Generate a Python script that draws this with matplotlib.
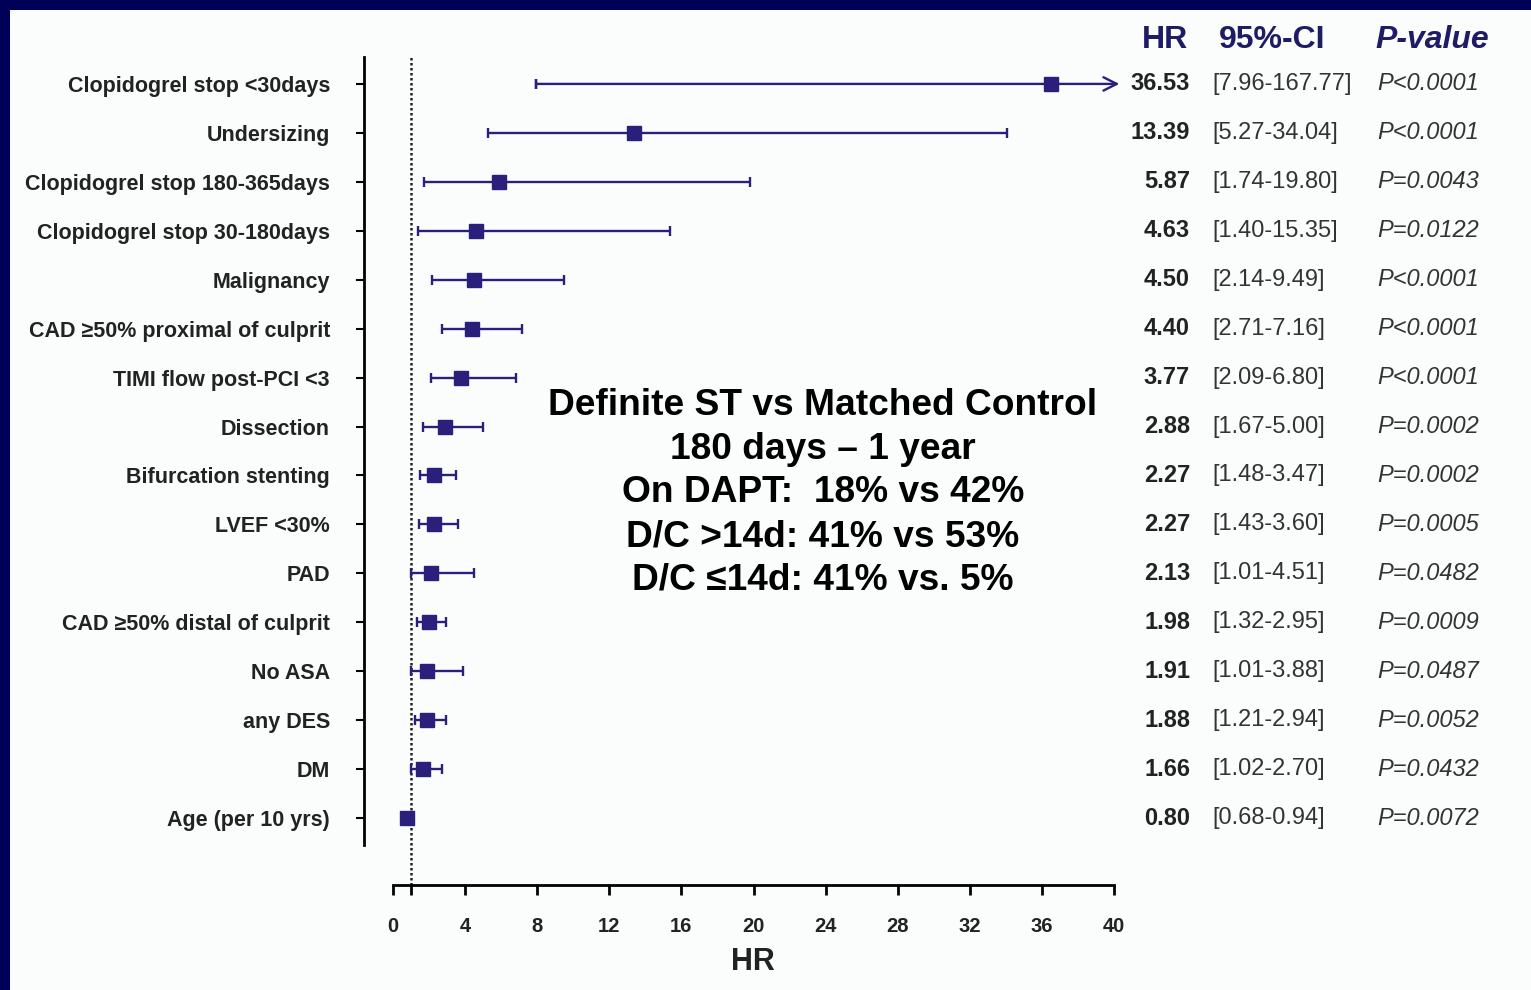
import numpy as np
import matplotlib.pyplot as plt
from matplotlib.patches import Rectangle
from matplotlib.transforms import blended_transform_factory

# Data
labels = ['Clopidogrel stop <30days', 'Undersizing', 'Clopidogrel stop 180-365days',
          'Clopidogrel stop 30-180days', 'Malignancy', 'CAD \u226550% proximal of culprit',
          'TIMI flow post-PCI <3', 'Dissection', 'Bifurcation stenting', 'LVEF <30%',
          'PAD', 'CAD \u226550% distal of culprit', 'No ASA', 'any DES', 'DM',
          'Age (per 10 yrs)']
hr = [36.53, 13.39, 5.87, 4.63, 4.50, 4.40, 3.77, 2.88, 2.27, 2.27, 2.13, 1.98,
      1.91, 1.88, 1.66, 0.80]
ci_low = [7.96, 5.27, 1.74, 1.40, 2.14, 2.71, 2.09, 1.67, 1.48, 1.43, 1.01, 1.32,
          1.01, 1.21, 1.02, 0.68]
ci_high = [167.77, 34.04, 19.80, 15.35, 9.49, 7.16, 6.80, 5.00, 3.47, 3.60, 4.51,
           2.95, 3.88, 2.94, 2.70, 0.94]
p_values = ['P<0.0001', 'P<0.0001', 'P=0.0043', 'P=0.0122', 'P<0.0001', 'P<0.0001',
            'P<0.0001', 'P=0.0002', 'P=0.0002', 'P=0.0005', 'P=0.0482', 'P=0.0009',
            'P=0.0487', 'P=0.0052', 'P=0.0432', 'P=0.0072']
x_ticks = [0, 4, 8, 12, 16, 20, 24, 28, 32, 36, 40]
x_max = 40

note = ('Definite ST vs Matched Control\n180 days \u2013 1 year\n'
        'On DAPT:  18% vs 42%\nD/C >14d: 41% vs 53%\nD/C \u226414d: 41% vs. 5%')

navy = '#000058'
mark = '#2a1f7a'
W, H = 1531, 990
PX = 72 / 100  # points per pixel

plt.rcParams['font.family'] = ['Liberation Sans', 'DejaVu Sans']

fig = plt.figure(figsize=(W / 100, H / 100), dpi=100, facecolor=navy)
# white slide panel behind everything
fig.patches.append(Rectangle((10 / W, 0), 1, 1 - 10 / H, transform=fig.transFigure,
                             facecolor='#fbfdfd', edgecolor='none', zorder=-10))

# axes placed in pixel space
left, right, top, bottom = 364, 1114, 57, 845
ax = fig.add_axes([left / W, 1 - bottom / H, (right - left) / W, (bottom - top) / H])
ax.set_facecolor('none')

n = len(labels)
y = np.arange(n)
x0 = -(393 - left) / ((right - 393) / x_max)
ax.set_xlim(x0, x_max)
ax.set_ylim(n - 1 + 0.55, -0.55)

hr = np.array(hr)
lo = np.array(ci_low)
hi = np.array(ci_high)
clipped = hi > x_max

# normal rows with caps
m = ~clipped
ax.errorbar(hr[m], y[m], xerr=[hr[m] - lo[m], hi[m] - hr[m]], fmt='s', color=mark,
            ms=9.5, elinewidth=1.7, capsize=3.5, capthick=1.7, zorder=3)
# rows beyond the axis: line with an arrow head
for i in np.where(clipped)[0]:
    ax.errorbar([lo[i]], [y[i]], xerr=[[0], [0]], fmt='none', color=mark,
                elinewidth=1.7, capsize=3.5, capthick=1.7, zorder=3)
    ax.annotate('', xy=(x_max + 0.3, y[i]), xytext=(lo[i], y[i]),
                arrowprops=dict(arrowstyle='->', color=mark, lw=1.7,
                                mutation_scale=24, shrinkA=0, shrinkB=0),
                annotation_clip=False, zorder=3)
    ax.plot(hr[i], y[i], 's', color=mark, ms=9.5, zorder=4)

# reference line at HR = 1, running down to the x axis
gap = 40
ax.axvline(1, ymin=-gap / (bottom - top), ymax=1, color='#222222', lw=1.8,
           linestyle=(0, (1.0, 1.0)), clip_on=False, zorder=2)

# spines
for s in ['top', 'right']:
    ax.spines[s].set_visible(False)
ax.spines['left'].set_linewidth(2)
ax.spines['bottom'].set_linewidth(2)
ax.spines['bottom'].set_position(('outward', gap * PX))
ax.spines['bottom'].set_bounds(0, x_max)

ax.set_yticks(y)
ax.set_yticklabels(labels, fontsize=15.5, fontweight='bold', color='#222222')
ax.tick_params(axis='y', length=6, width=1.5, pad=18.5)

ax.set_xticks(x_ticks + [1])
ax.set_xticklabels([str(t) for t in x_ticks] + [''], fontsize=14.5,
                   fontweight='bold', color='#222222')
ax.tick_params(axis='x', length=7, width=2, pad=16)
ax.set_xlabel('HR', fontsize=22, fontweight='bold', color='#222222')
ax.xaxis.set_label_coords((753 - left) / (right - left), -(962 - bottom) / (bottom - top))
ax.xaxis.label.set_va('center')

# table on the right
tr = blended_transform_factory(fig.transFigure, ax.transData)
for i in range(n):
    ax.text(1190 / W, y[i], f'{hr[i]:.2f}', transform=tr, ha='right', va='center',
            fontsize=17, fontweight='bold', color='#222222')
    ax.text(1212 / W, y[i], f'[{lo[i]:.2f}-{hi[i]:.2f}]', transform=tr, ha='left',
            va='center', fontsize=17, color='#333333')
    ax.text(1377 / W, y[i], p_values[i], transform=tr, ha='left', va='center',
            fontsize=17, style='italic', color='#333333')

hdr_y = 1 - 40 / H
hdr = dict(fontsize=23, fontweight='bold', color='#1f1c66', va='center')
fig.text(1165 / W, hdr_y, 'HR', ha='center', **hdr)
fig.text(1272 / W, hdr_y, '95%-CI', ha='center', **hdr)
fig.text(1432 / W, hdr_y, 'P-value', ha='center', style='italic', **hdr)

fig.text(823 / W, 1 - 493 / H, note, ha='center', va='center', fontsize=26.7,
         fontweight='bold', color='black', linespacing=1.32)

fig.savefig('out.png', dpi=100, facecolor=navy)
